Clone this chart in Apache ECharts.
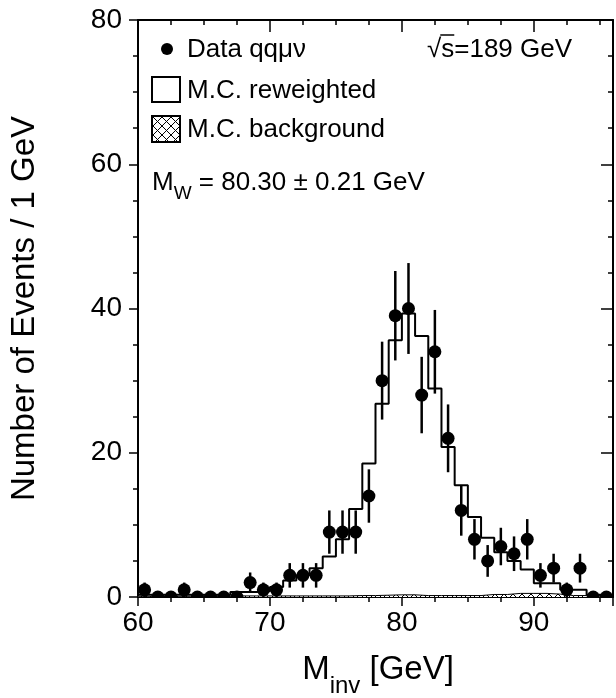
<!DOCTYPE html>
<html>
<head>
<meta charset="utf-8">
<script src="https://cdn.jsdelivr.net/npm/echarts@6/dist/echarts.min.js"></script>
<style>
  html, body { margin: 0; padding: 0; background: #fff; }
  #chart { width: 616px; height: 698px; }
</style>
</head>
<body>
<div id="chart"></div>
<script>
var FONT = "'Liberation Sans', Arial, Helvetica, sans-serif";

// bin lower edges (1 GeV bins) and the closing edge
var binEdges = [60, 61, 62, 63, 64, 65, 66, 67, 68, 69, 70, 71, 72, 73, 74, 75, 76, 77,
  78, 79, 80, 81, 82, 83, 84, 85, 86, 87, 88, 89, 90, 91, 92, 93, 94, 95, 96];

// data qq mu nu: counts and error bar half-heights
var dataCounts = [1, 0, 0, 1, 0, 0, 0, 0, 2, 1, 1, 3, 3, 3, 9, 9, 9, 14,
  30, 39, 40, 28, 34, 22, 12, 8, 5, 7, 6, 8, 3, 4, 1, 4, 0, 0];
var dataErrors = [1, 0, 0, 1, 0, 0, 0, 0, 1.4, 1, 1, 1.7, 1.7, 1.7, 3, 3, 3, 3.7,
  5.4, 6.2, 6.3, 5.3, 5.8, 4.7, 3.5, 2.8, 2.2, 2.6, 2.4, 2.8, 1.7, 2, 1, 2, 0, 0];

// M.C. reweighted histogram
var mcCounts = [0.3, 0.3, 0.3, 0.3, 0.3, 0.3, 0.3, 0.7, 0.7, 0.8, 1.4, 2.3, 3.0, 4.0, 5.6, 8.0, 12.2, 18.5,
  26.8, 35.6, 39.3, 36.2, 28.9, 20.8, 15.5, 11.1, 8.2, 6.2, 5.0, 3.8, 1.9, 1.9, 1.0, 1.0, 0.3, 0.3];

// M.C. background histogram
var bgCounts = [0.1, 0.1, 0.1, 0.1, 0.1, 0.1, 0.1, 0.15, 0.15, 0.15, 0.15, 0.15, 0.15, 0.15, 0.15, 0.15, 0.2, 0.2,
  0.25, 0.3, 0.3, 0.2, 0.2, 0.2, 0.2, 0.2, 0.35, 0.35, 0.5, 0.5, 0.5, 0.4, 0.2, 0.2, 0.15, 0.15];

var xTicksMajor = 10, xTicksMinor = 2.5;
var yTicksMajor = 20;

// step series: value at each lower edge, closed at the last edge
function stepData(vals) {
  var out = [];
  for (var i = 0; i < vals.length; i++) out.push([binEdges[i], vals[i]]);
  out.push([binEdges[vals.length], vals[vals.length - 1]]);
  return out;
}

var points = [];
for (var i = 0; i < dataCounts.length; i++) {
  points.push([(binEdges[i] + binEdges[i + 1]) / 2, dataCounts[i], dataErrors[i]]);
}

// cross hatch for the background fill
var hatch = document.createElement('canvas');
hatch.width = 9; hatch.height = 9;
var hc = hatch.getContext('2d');
hc.fillStyle = '#fff'; hc.fillRect(0, 0, 9, 9);
hc.strokeStyle = '#000'; hc.lineWidth = 1;
hc.beginPath(); hc.moveTo(0, 0); hc.lineTo(9, 9); hc.moveTo(9, 0); hc.lineTo(0, 9); hc.stroke();

var mctx = document.createElement('canvas').getContext('2d');
function tw(s, size) { mctx.font = size + 'px ' + FONT; return mctx.measureText(s).width; }

function txt(s, x, y, size, align) {
  return {
    type: 'text', z: 100,
    style: {
      text: s, x: x, y: y, fill: '#000', font: size + 'px ' + FONT,
      align: align || 'left', verticalAlign: 'middle',
      textAlign: align || 'left', textVerticalAlign: 'middle'
    }
  };
}

function xAxisCfg(pos, interval, inside, len, showLine, showLabel) {
  return {
    type: 'value', min: 60, max: 96, interval: interval, position: pos,
    axisLine: { show: showLine, onZero: false, lineStyle: { color: '#000', width: 2 } },
    axisTick: { show: true, inside: inside, length: len, lineStyle: { color: '#000', width: 1.5 } },
    axisLabel: {
      show: showLabel, margin: 12, fontSize: 28, color: '#000', fontFamily: FONT,
      formatter: function (v) { return v % 10 === 0 ? String(v) : ''; }
    },
    splitLine: { show: false }
  };
}

function yAxisCfg(pos, inside, len, showLabel) {
  return {
    type: 'value', min: 0, max: 80, interval: yTicksMajor, position: pos,
    axisLine: { show: true, lineStyle: { color: '#000', width: 2 } },
    axisTick: { show: true, inside: inside, length: len, lineStyle: { color: '#000', width: 1.5 } },
    minorTick: { show: true, splitNumber: 4, length: 5, lineStyle: { color: '#000', width: 1.5 } },
    axisLabel: { show: showLabel, margin: 16, fontSize: 28, color: '#000', fontFamily: FONT },
    splitLine: { show: false },
    minorSplitLine: { show: false }
  };
}

// subscript pieces for the axis title
var tM = tw('M', 33), tInv = tw('inv', 24), tGeV = tw(' [GeV]', 33);
var tx0 = 378 - (tM + tInv + tGeV) / 2;
var mwM = tw('M', 26), mwW = tw('W', 19);
var sqrtW = tw('\u221A', 26), sW = tw('s', 26);

var yLeft = yAxisCfg('left', false, 9, true);
yLeft.name = 'Number of Events / 1 GeV';
yLeft.nameLocation = 'middle';
yLeft.nameGap = 97;
yLeft.nameTextStyle = { fontSize: 33, color: '#000', fontFamily: FONT };

var option = {
  animation: false,
  backgroundColor: '#fff',
  grid: { left: 138, top: 20, width: 481, height: 577 },
  xAxis: [
    xAxisCfg('bottom', xTicksMajor, false, 9, true, true),
    xAxisCfg('bottom', xTicksMinor, false, 5, false, false),
    xAxisCfg('top', xTicksMajor, true, 12, true, false),
    xAxisCfg('top', xTicksMinor, true, 5, false, false)
  ],
  yAxis: [yLeft, yAxisCfg('right', true, 12, false)],
  series: [
    {
      name: 'M.C. background', type: 'line', step: 'end',
      data: stepData(bgCounts), symbol: 'none',
      lineStyle: { color: '#000', width: 1 },
      areaStyle: { color: { image: hatch, repeat: 'repeat' }, opacity: 1 },
      z: 2
    },
    {
      name: 'M.C. reweighted', type: 'line', step: 'end',
      data: stepData(mcCounts), symbol: 'none',
      lineStyle: { color: '#000', width: 2 },
      z: 3
    },
    {
      name: 'Data', type: 'custom', clip: true, z: 4,
      data: points,
      encode: { x: 0, y: 1 },
      renderItem: function (params, api) {
        var x = api.value(0), y = api.value(1), e = api.value(2);
        var c = api.coord([x, y]);
        var kids = [];
        if (e > 0) {
          var t = api.coord([x, y + e]), b = api.coord([x, Math.max(0, y - e)]);
          kids.push({ type: 'line', shape: { x1: c[0], y1: t[1], x2: c[0], y2: b[1] },
            style: { stroke: '#000', lineWidth: 2.5 } });
        }
        kids.push({ type: 'circle', shape: { cx: c[0], cy: c[1], r: 6.5 }, style: { fill: '#000' } });
        return { type: 'group', children: kids };
      }
    }
  ],
  graphic: [
    // legend
    { type: 'circle', z: 100, shape: { cx: 167, cy: 49, r: 6 }, style: { fill: '#000' } },
    txt('Data qq\u03BC\u03BD', 187, 50, 26),
    txt('\u221As=189 GeV', 427, 50, 26),
    { type: 'line', z: 100, shape: { x1: 427 + sqrtW - 1, y1: 35, x2: 427 + sqrtW + sW, y2: 35 },
      style: { stroke: '#000', lineWidth: 1.5 } },
    { type: 'rect', z: 100, shape: { x: 152, y: 77, width: 28, height: 25 },
      style: { fill: '#fff', stroke: '#000', lineWidth: 2 } },
    txt('M.C. reweighted', 187, 91, 26),
    { type: 'rect', z: 100, shape: { x: 152, y: 116, width: 28, height: 26 },
      style: { fill: { image: hatch, repeat: 'repeat' }, stroke: '#000', lineWidth: 2 } },
    txt('M.C. background', 187, 130, 26),
    // M_W = ...
    txt('M', 152, 183, 26),
    txt('W', 152 + mwM, 194, 19),
    txt(' = 80.30 \u00B1 0.21 GeV', 152 + mwM + mwW, 183, 26),
    // x axis title
    txt('M', tx0, 670, 33),
    txt('inv', tx0 + tM, 686, 24),
    txt(' [GeV]', tx0 + tM + tInv, 670, 33)
  ]
};

var myChart = echarts.init(document.getElementById('chart'));
myChart.setOption(option);
</script>
</body>
</html>
